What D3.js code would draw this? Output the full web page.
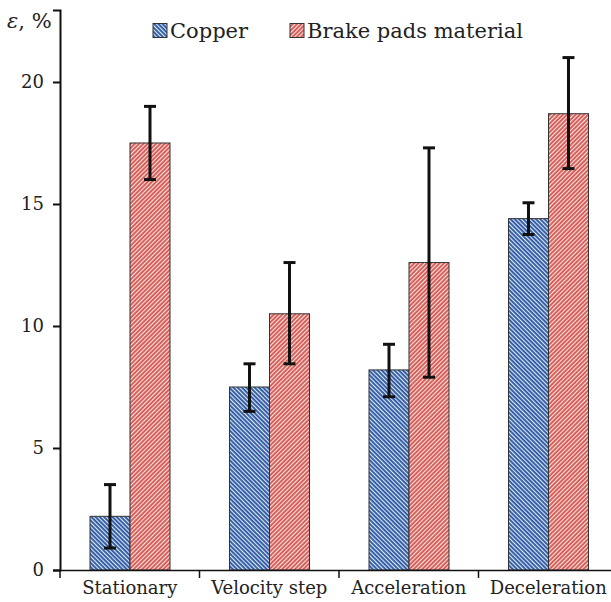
<!DOCTYPE html>
<html>
<head>
<meta charset="utf-8">
<script src="https://cdn.jsdelivr.net/npm/d3@7"></script>
<style>
  body { margin: 0; background: #fff; }
</style>
</head>
<body>
<div id="chart"></div>
<script>
// data
const categories = ['Stationary', 'Velocity step', 'Acceleration', 'Deceleration'];
const seriesNames = ['Copper', 'Brake pads material'];
const copperValues = [2.2, 7.5, 8.2, 14.4];
const copperLow = [0.9, 6.5, 7.1, 13.75];
const copperHigh = [3.5, 8.45, 9.25, 15.05];
const brakeValues = [17.5, 10.5, 12.6, 18.7];
const brakeLow = [16.0, 8.45, 7.9, 16.45];
const brakeHigh = [19.0, 12.6, 17.3, 21.0];
const yTicks = [0, 5, 10, 15, 20];

const W = 611, H = 602;
const margin = {left: 60, right: 0, top: 10, bottom: 32};
const FONT = '"DejaVu Serif", "Liberation Serif", serif';

const svg = d3.select('#chart').append('svg')
  .attr('width', W)
  .attr('height', H);

// hatch patterns
const defs = svg.append('defs');
function hatch(id, bg, line, angle) {
  const p = defs.append('pattern')
    .attr('id', id)
    .attr('patternUnits', 'userSpaceOnUse')
    .attr('width', 3).attr('height', 3)
    .attr('patternTransform', `rotate(${angle})`);
  p.append('rect').attr('width', 3).attr('height', 3).attr('fill', bg);
  p.append('rect').attr('width', 1.1).attr('height', 3).attr('fill', line);
}
hatch('hCopper', '#2f5ba3', '#dfe8f5', -45);
hatch('hBrake', '#d65a55', '#fbe4e1', 45);

const x = d3.scaleBand()
  .domain(categories)
  .range([margin.left, 618]);

const x1 = d3.scaleBand()
  .domain(seriesNames)
  .range([30, 110]);

const y = d3.scaleLinear()
  .domain([0, 22.95])
  .range([H - margin.bottom, margin.top]);

const rows = categories.map((c, i) => [
  {cat: c, s: seriesNames[0], v: copperValues[i], lo: copperLow[i], hi: copperHigh[i], fill: 'url(#hCopper)'},
  {cat: c, s: seriesNames[1], v: brakeValues[i], lo: brakeLow[i], hi: brakeHigh[i], fill: 'url(#hBrake)'}
]).flat();

// bars
svg.append('g').selectAll('rect')
  .data(rows)
  .join('rect')
    .attr('x', d => x(d.cat) + x1(d.s))
    .attr('y', d => y(d.v))
    .attr('width', x1.bandwidth())
    .attr('height', d => y(0) - y(d.v))
    .attr('fill', d => d.fill)
    .attr('stroke', '#333')
    .attr('stroke-width', 1);

// error bars
const eb = svg.append('g').attr('stroke', '#111').attr('stroke-width', 3);
rows.forEach(d => {
  const cx = x(d.cat) + x1(d.s) + x1.bandwidth() / 2;
  eb.append('line').attr('x1', cx).attr('x2', cx).attr('y1', y(d.lo)).attr('y2', y(d.hi));
  eb.append('line').attr('x1', cx - 6).attr('x2', cx + 6).attr('y1', y(d.lo)).attr('y2', y(d.lo));
  eb.append('line').attr('x1', cx - 6).attr('x2', cx + 6).attr('y1', y(d.hi)).attr('y2', y(d.hi));
});

// y axis
const yAxis = svg.append('g')
  .attr('transform', `translate(${margin.left},0)`)
  .call(d3.axisLeft(y).tickValues(yTicks).tickSize(7).tickPadding(9));
yAxis.select('.domain').attr('stroke', '#111').attr('stroke-width', 2);
yAxis.selectAll('.tick line').attr('stroke', '#111').attr('stroke-width', 2);
yAxis.selectAll('.tick text')
  .attr('font-family', FONT).attr('font-size', 18).attr('fill', '#222');

// x axis
const xAxis = svg.append('g')
  .attr('transform', `translate(0,${y(0)})`)
  .call(d3.axisBottom(x).tickSize(0).tickPadding(11));
xAxis.select('.domain').attr('stroke', '#111').attr('stroke-width', 1.5);
xAxis.selectAll('.tick text')
  .attr('font-family', FONT).attr('font-size', 18).attr('fill', '#222');
// category separators
xAxis.selectAll('.sep')
  .data(categories)
  .join('line')
    .attr('x1', d => x(d)).attr('x2', d => x(d))
    .attr('y1', 0).attr('y2', 8)
    .attr('stroke', '#111').attr('stroke-width', 1.5);

// y label
svg.append('text')
  .attr('x', 7).attr('y', 28)
  .attr('font-family', FONT).attr('font-size', 21).attr('fill', '#222')
  .html('<tspan font-style="italic">ε</tspan>, %');

// legend
const legend = svg.append('g');
const legX = [153, 290];
seriesNames.forEach((s, i) => {
  legend.append('rect')
    .attr('x', legX[i]).attr('y', 23.5)
    .attr('width', 14).attr('height', 14)
    .attr('fill', i === 0 ? 'url(#hCopper)' : 'url(#hBrake)')
    .attr('stroke', '#333');
  legend.append('text')
    .attr('x', legX[i] + 17).attr('y', 38)
    .attr('font-family', FONT).attr('font-size', 21).attr('fill', '#222')
    .text(s);
});
</script>
</body>
</html>
